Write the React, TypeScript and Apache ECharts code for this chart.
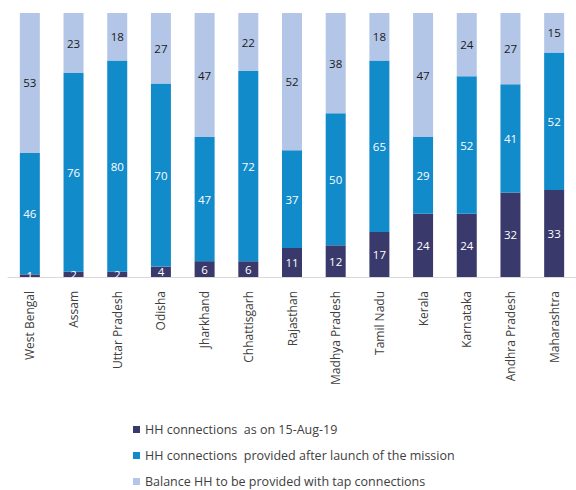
import React, { useEffect, useRef } from "react";
import * as echarts from "echarts";

const states = [
  "West Bengal", "Assam", "Uttar Pradesh", "Odisha", "Jharkhand", "Chhattisgarh",
  "Rajasthan", "Madhya Pradesh", "Tamil Nadu", "Kerala", "Karnataka", "Andhra Pradesh", "Maharashtra",
];
const asOnAug19 = [1, 2, 2, 4, 6, 6, 11, 12, 17, 24, 24, 32, 33];
const afterLaunch = [46, 76, 80, 70, 47, 72, 37, 50, 65, 29, 52, 41, 52];
const balance = [53, 23, 18, 27, 47, 22, 52, 38, 18, 47, 24, 27, 15];
const seriesNames = [
  "HH connections  as on 15-Aug-19",
  "HH connections  provided after launch of the mission",
  "Balance HH to be provided with tap connections",
];

export default function App() {
  const ref = useRef<HTMLDivElement>(null);
  useEffect(() => {
    if (!ref.current) return;
    const chart = echarts.init(ref.current, null, { renderer: "svg" });
    const totals = states.map((_, i) => asOnAug19[i] + afterLaunch[i] + balance[i]);
    const colors = ["#3a396b", "#128bcb", "#b4c6e7"];
    const labelColors = ["#ffffff", "#ffffff", "#1a1a1a"];
    const raw = [asOnAug19, afterLaunch, balance];
    const series = raw.map((arr, s) => ({
      name: seriesNames[s],
      type: "bar",
      stack: "all",
      barWidth: 20,
      itemStyle: { color: colors[s] },
      label: {
        show: true,
        position: "inside",
        color: labelColors[s],
        fontSize: 11.5,
        fontFamily: "Open Sans",
        formatter: (p: any) => String(arr[p.dataIndex]),
      },
      data: arr.map((v, i) => (v / totals[i]) * 100),
    }));
    chart.setOption({
      animation: false,
      grid: { left: 8, top: 13, width: 580, height: 264, containLabel: false },
      xAxis: {
        type: "category",
        data: states,
        axisLine: { show: true, lineStyle: { color: "#d9d9d9", width: 1 } },
        axisTick: { show: false },
        axisLabel: {
          rotate: 90,
          interval: 0,
          margin: 14,
          fontSize: 12,
          fontFamily: "Open Sans",
          color: "#404040",
        },
      },
      yAxis: {
        type: "value",
        min: 0,
        max: 100,
        show: false,
        splitLine: { show: false },
      },
      legend: {
        orient: "vertical",
        left: 128,
        top: 417,
        height: 120,
        itemWidth: 7,
        itemHeight: 7,
        itemGap: 11,
        icon: "rect",
        textStyle: { fontSize: 12.5, fontFamily: "Open Sans", color: "#404040", lineHeight: 15 },
        data: seriesNames,
      },
      series,
    });
    return () => chart.dispose();
  }, []);
  return <div ref={ref} style={{ width: 576, height: 490, position: "absolute", left: 0, top: 0 }} />;
}
